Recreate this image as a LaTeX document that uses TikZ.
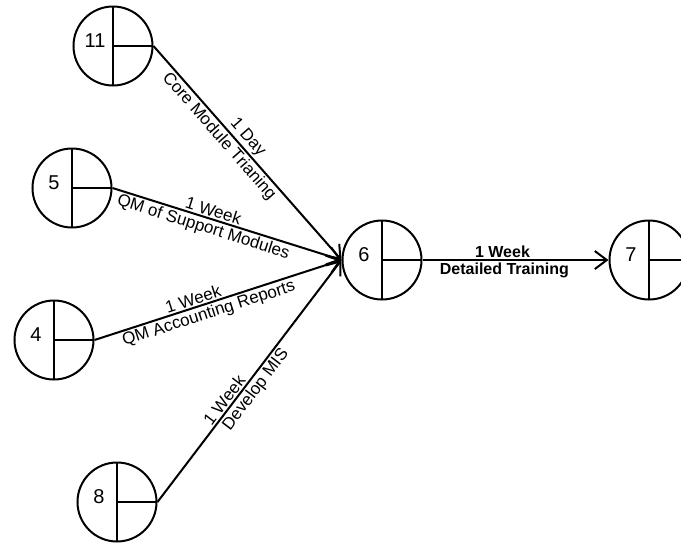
\documentclass[tikz,border=0pt]{standalone}
\usepackage{fontspec}
\setmainfont{Liberation Sans}
\usetikzlibrary{arrows.meta}
\begin{document}
\begin{tikzpicture}[x=1pt, y=-1pt, line width=2pt,
  >={Straight Barb[length=12pt, width=18pt]},
  evt/.style={draw, circle, minimum size=79pt, inner sep=0pt,
    path picture={\draw[line width=2pt] (path picture bounding box.north) -- (path picture bounding box.south)
      (path picture bounding box.center) -- (path picture bounding box.east);},
    label={[xshift=-18pt, yshift=5pt, font=\fontsize{20}{22}\selectfont]center:#1}},
  lbl/.style={font=\fontsize{17}{19}\selectfont, sloped, pos=.45, inner sep=1.5pt}]
\clip (0,0) rectangle (681,544);
% event circles
\node[evt=11] (n11) at (113,46) {};
\node[evt=5] (n5) at (72,188) {};
\node[evt=4] (n4) at (54,340) {};
\node[evt=8] (n8) at (117,502) {};
\node[evt=6] (n6) at (382,260) {};
\node[evt=7] (n7) at (649,260) {};
% activities into 6
\draw[->] (n11.east) -- node[lbl, above, pos=.46] {1 Day} node[lbl, below, pos=.39] {Core Module Trianing} (n6.west);
\draw[->] (n5.east) -- node[lbl, above, pos=.43] {1 Week} node[lbl, below, pos=.41] {QM of Support Modules} (n6.west);
\draw[->] (n4.east) -- node[lbl, above, pos=.41] {1 Week} node[lbl, below, pos=.45] {QM Accounting Reports} (n6.west);
\draw[->] (n8.east) -- node[lbl, above, pos=.40] {1 Week} node[lbl, below, pos=.49] {Develop MIS} (n6.west);
% 6 to 7
\draw[->] (n6.east) -- node[lbl, above, pos=.43, font=\bfseries\fontsize{16}{18}\selectfont] {1 Week}
  node[lbl, below, pos=.44, font=\bfseries\fontsize{16}{18}\selectfont] {Detailed Training} (n7.west);
\end{tikzpicture}
\end{document}
